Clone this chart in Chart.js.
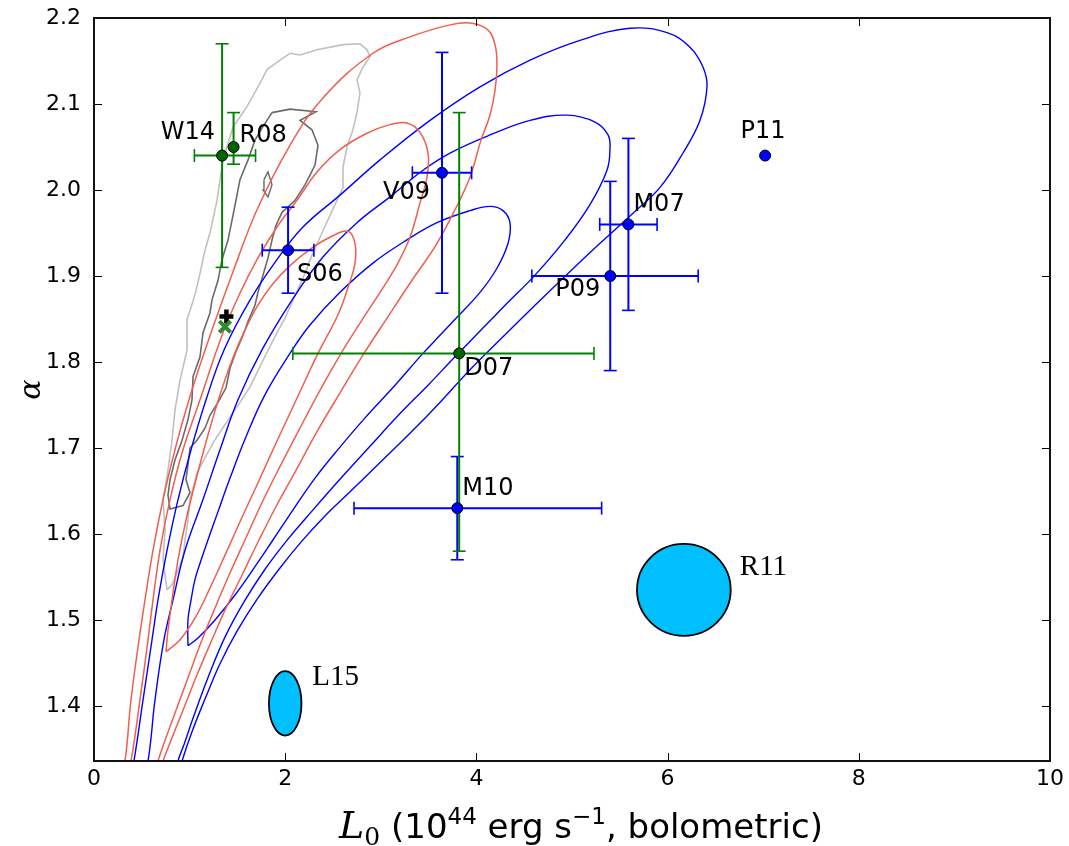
<!DOCTYPE html>
<html><head><meta charset="utf-8">
<script src="https://cdn.jsdelivr.net/npm/chart.js@4.4.1/dist/chart.umd.min.js"></script>
<style>html,body{margin:0;padding:0;background:#fff;}</style>
</head><body>
<canvas id="c" width="1069" height="846"></canvas>
<script>
// ---------- axes ----------
const xTicks = [0, 2, 4, 6, 8, 10];
const yTicks = [1.4, 1.5, 1.6, 1.7, 1.8, 1.9, 2.0, 2.1, 2.2];
const xRange = [0, 10];
const yRange = [1.336, 2.2];

// ---------- literature points ----------
const greenNames = ['W14', 'R08', 'D07'];
const greenL = [1.34, 1.46, 3.82];
const greenA = [2.04, 2.05, 1.81];
const greenLerrLo = [0.29, 0, 1.74];
const greenLerrHi = [0.35, 0, 1.41];
const greenAerrLo = [0.13, 0.02, 0.23];
const greenAerrHi = [0.13, 0.04, 0.28];

const blueNames = ['S06', 'V09', 'M07', 'P09', 'M10', 'P11'];
const blueL = [2.03, 3.64, 5.59, 5.40, 3.80, 7.02];
const blueA = [1.93, 2.02, 1.96, 1.90, 1.63, 2.04];
const blueLerrLo = [0.27, 0.31, 0.30, 0.82, 1.08, 0];
const blueLerrHi = [0.27, 0.31, 0.30, 0.92, 1.51, 0];
const blueAerrLo = [0.05, 0.14, 0.10, 0.11, 0.06, 0];
const blueAerrHi = [0.05, 0.14, 0.10, 0.11, 0.06, 0];

const bestPlus = [1.385, 1.853];
const bestCross = [1.37, 1.841];

// ellipses (center L, center alpha, half-width L, half-height alpha)
const ellNames = ['R11', 'L15'];
const ellL = [6.17, 2.00];
const ellA = [1.535, 1.403];
const ellRL = [0.49, 0.17];
const ellRA = [0.0535, 0.0374];

// ---------- contours [L, alpha] ----------
const redOuter = [[0.251,1.302],[0.324,1.336],[0.387,1.407],[0.471,1.477],[0.533,1.523],[0.617,1.581],[0.722,1.640],[0.847,1.698],[1.015,1.764],[1.224,1.834],[1.454,1.905],[1.705,1.977],[2.050,2.052],[2.395,2.107],[2.918,2.159],[3.305,2.178],[3.724,2.192],[3.954,2.194],[4.121,2.186],[4.195,2.169],[4.215,2.145],[4.195,2.116],[4.142,2.087],[4.048,2.058],[3.933,2.015],[3.776,1.977],[3.577,1.936],[3.326,1.895],[3.065,1.851],[2.824,1.810],[2.589,1.767],[2.343,1.721],[2.113,1.674],[1.914,1.634],[1.726,1.593],[1.548,1.552],[1.381,1.514],[1.234,1.477],[1.077,1.436],[0.931,1.395],[0.805,1.360],[0.722,1.336],[0.617,1.302]];
const redMiddle = [[0.314,1.302],[0.387,1.336],[0.481,1.407],[0.565,1.477],[0.617,1.523],[0.690,1.581],[0.795,1.640],[0.931,1.698],[1.109,1.756],[1.349,1.834],[1.527,1.880],[1.705,1.919],[1.914,1.957],[2.123,1.988],[2.333,2.021],[2.573,2.047],[2.856,2.066],[3.096,2.076],[3.274,2.078],[3.410,2.067],[3.494,2.043],[3.483,2.015],[3.410,1.985],[3.305,1.945],[3.169,1.913],[2.992,1.881],[2.793,1.847],[2.584,1.810],[2.364,1.767],[2.144,1.721],[1.925,1.674],[1.747,1.634],[1.579,1.593],[1.412,1.552],[1.266,1.514],[1.130,1.477],[0.994,1.436],[0.858,1.395],[0.743,1.360],[0.669,1.336],[0.575,1.302]];
const redInner = [[0.753,1.463],[0.774,1.488],[0.816,1.523],[0.879,1.570],[0.962,1.616],[1.067,1.663],[1.192,1.715],[1.318,1.762],[1.454,1.805],[1.579,1.837],[1.715,1.866],[1.872,1.891],[2.050,1.912],[2.259,1.931],[2.469,1.945],[2.657,1.952],[2.730,1.938],[2.730,1.915],[2.667,1.890],[2.552,1.855],[2.343,1.810],[2.186,1.773],[2.040,1.738],[1.872,1.698],[1.705,1.657],[1.559,1.622],[1.381,1.578],[1.213,1.537],[1.056,1.502],[0.900,1.477],[0.753,1.463]];
const blueOuter = [[0.356,1.302],[0.418,1.336],[0.513,1.407],[0.607,1.477],[0.669,1.523],[0.764,1.581],[0.879,1.640],[1.015,1.698],[1.172,1.756],[1.360,1.814],[1.632,1.872],[1.914,1.919],[2.186,1.957],[2.573,1.994],[2.992,2.035],[3.515,2.081],[4.038,2.120],[4.561,2.151],[5.084,2.174],[5.607,2.188],[5.994,2.183],[6.234,2.166],[6.370,2.143],[6.412,2.120],[6.339,2.081],[6.161,2.043],[5.921,2.003],[5.638,1.973],[5.293,1.938],[4.958,1.903],[4.613,1.866],[4.257,1.827],[3.933,1.791],[3.619,1.753],[3.305,1.717],[2.992,1.683],[2.678,1.649],[2.416,1.621],[2.176,1.592],[1.935,1.559],[1.705,1.524],[1.496,1.487],[1.318,1.449],[1.161,1.408],[1.025,1.370],[0.921,1.336],[0.837,1.302]];
const blueMiddle = [[0.481,1.302],[0.565,1.336],[0.638,1.407],[0.732,1.477],[0.826,1.523],[0.952,1.581],[1.140,1.640],[1.318,1.698],[1.506,1.756],[1.757,1.814],[2.071,1.872],[2.395,1.922],[2.751,1.962],[3.096,1.992],[3.441,2.023],[3.724,2.043],[4.142,2.064],[4.561,2.081],[4.948,2.087],[5.241,2.079],[5.377,2.064],[5.397,2.047],[5.366,2.023],[5.188,1.983],[4.927,1.942],[4.613,1.901],[4.310,1.867],[4.038,1.836],[3.776,1.806],[3.494,1.773],[3.201,1.740],[2.887,1.702],[2.584,1.665],[2.291,1.628],[2.029,1.594],[1.789,1.559],[1.569,1.521],[1.370,1.480],[1.203,1.436],[1.056,1.392],[0.941,1.355],[0.879,1.336],[0.816,1.302]];
const blueInner = [[0.983,1.470],[0.983,1.500],[1.015,1.523],[1.056,1.547],[1.109,1.566],[1.192,1.593],[1.297,1.626],[1.423,1.665],[1.590,1.713],[1.789,1.762],[2.050,1.810],[2.259,1.843],[2.573,1.881],[2.918,1.915],[3.274,1.942],[3.588,1.962],[3.933,1.976],[4.142,1.981],[4.278,1.976],[4.351,1.962],[4.331,1.938],[4.215,1.909],[4.038,1.881],[3.797,1.852],[3.619,1.831],[3.441,1.810],[3.149,1.773],[2.835,1.735],[2.573,1.701],[2.312,1.665],[2.082,1.628],[1.872,1.593],[1.684,1.562],[1.475,1.529],[1.266,1.500],[1.088,1.479],[0.983,1.470]];
const grayOuter = [[0.764,1.535],[0.722,1.570],[0.743,1.605],[0.722,1.640],[0.774,1.674],[0.816,1.709],[0.847,1.744],[0.900,1.779],[0.973,1.814],[0.973,1.849],[1.056,1.878],[1.109,1.903],[1.161,1.930],[1.213,1.950],[1.287,1.988],[1.349,2.035],[1.454,2.073],[1.600,2.097],[1.736,2.124],[1.810,2.140],[1.946,2.151],[2.050,2.159],[2.155,2.157],[2.333,2.163],[2.605,2.169],[2.782,2.170],[2.856,2.163],[2.887,2.155],[2.814,2.143],[2.751,2.128],[2.782,2.113],[2.751,2.090],[2.709,2.070],[2.646,2.050],[2.605,2.027],[2.605,2.003],[2.521,1.983],[2.364,1.945],[2.280,1.924],[2.207,1.903],[2.082,1.872],[1.998,1.851],[1.914,1.834],[1.768,1.802],[1.632,1.771],[1.527,1.753],[1.423,1.736],[1.245,1.706],[1.077,1.671],[1.004,1.640],[0.983,1.616],[0.952,1.593],[0.931,1.573],[0.879,1.558],[0.816,1.541],[0.764,1.535]];
const grayInner = [[1.862,2.090],[1.757,2.072],[1.684,2.058],[1.611,2.035],[1.527,2.012],[1.485,1.988],[1.444,1.965],[1.402,1.942],[1.339,1.919],[1.297,1.895],[1.234,1.872],[1.213,1.857],[1.140,1.834],[1.109,1.806],[1.036,1.783],[1.025,1.756],[0.983,1.733],[0.921,1.709],[0.847,1.686],[0.795,1.663],[0.774,1.645],[0.795,1.629],[0.931,1.633],[1.004,1.648],[0.962,1.663],[0.983,1.680],[1.004,1.700],[1.077,1.709],[1.161,1.723],[1.213,1.738],[1.297,1.753],[1.381,1.770],[1.423,1.793],[1.485,1.812],[1.559,1.831],[1.611,1.847],[1.684,1.866],[1.715,1.881],[1.768,1.901],[1.820,1.921],[1.862,1.942],[1.904,1.959],[1.967,1.974],[2.103,1.988],[2.207,2.006],[2.312,2.029],[2.343,2.052],[2.280,2.070],[2.155,2.081],[2.322,2.091],[2.050,2.094],[1.862,2.090]];
const grayIsland = [[1.778,2.012],[1.820,2.021],[1.862,2.006],[1.820,1.992],[1.768,2.000],[1.778,2.012]];

// ---------- styles ----------
const RED = '#ee5f4e', BLUE = '#0000ff', GREEN = '#008000', GREENDOT = '#006400';
const labelStyle = {
  W14: [-7, -23, 'right'], R08: [6, -11, 'left'], S06: [9, 25, 'left'], V09: [-12, 20, 'right'],
  M07: [5, -20, 'left'], P09: [-10, 14, 'right'], P11: [-2, -24, 'center'], D07: [5, 15, 'left'],
  M10: [5, -19, 'left'], R11: [56, -22, 'left'], L15: [27, -26, 'left']
};

const toXY = arr => arr.map(([x, y]) => ({x, y}));
const contourSet = (arr, color, w, tension) => ({
  data: toXY(arr), showLine: true, borderColor: color, borderWidth: w,
  pointRadius: 0, tension: tension, fill: false
});
function errSets(Ls, As, lLo, lHi, aLo, aHi, color) {
  const out = [];
  Ls.forEach((L, i) => {
    if (aLo[i] + aHi[i] > 0) out.push({
      data: [{x: L, y: As[i] - aLo[i]}, {x: L, y: As[i] + aHi[i]}], showLine: true,
      borderColor: color, borderWidth: 2, pointStyle: 'line', pointRadius: 6.5,
      pointBorderWidth: 1.6, pointBorderColor: color, pointRotation: 0
    });
    if (lLo[i] + lHi[i] > 0) out.push({
      data: [{x: L - lLo[i], y: As[i]}, {x: L + lHi[i], y: As[i]}], showLine: true,
      borderColor: color, borderWidth: 2, pointStyle: 'line', pointRadius: 6.5,
      pointBorderWidth: 1.6, pointBorderColor: color, pointRotation: 90
    });
  });
  return out;
}

const datasets = [
  {data: [{x: bestCross[0], y: bestCross[1]}], pointStyle: 'crossRot', pointRadius: 8, pointBorderWidth: 4, borderColor: '#2e8b2e', backgroundColor: '#2e8b2e'},
  {data: [{x: bestPlus[0], y: bestPlus[1]}], pointStyle: 'cross', pointRadius: 7, pointBorderWidth: 4.5, borderColor: '#000', backgroundColor: '#000'},
  {data: greenL.map((x, i) => ({x, y: greenA[i]})), pointRadius: 5.5, pointBorderWidth: 1, backgroundColor: GREENDOT, borderColor: '#000'},
  {data: blueL.map((x, i) => ({x, y: blueA[i]})), pointRadius: 5.5, pointBorderWidth: 1, backgroundColor: BLUE, borderColor: '#000'},
  ...errSets(greenL, greenA, greenLerrLo, greenLerrHi, greenAerrLo, greenAerrHi, GREEN),
  ...errSets(blueL, blueA, blueLerrLo, blueLerrHi, blueAerrLo, blueAerrHi, BLUE),
  contourSet(redOuter, RED, 1.5, 0.4),
  contourSet(redMiddle, RED, 1.5, 0.4),
  contourSet(redInner, RED, 1.5, 0.4),
  contourSet(blueOuter, BLUE, 1.4, 0.4),
  contourSet(blueMiddle, BLUE, 1.4, 0.4),
  contourSet(blueInner, BLUE, 1.4, 0.4),
  contourSet(grayInner, '#6a6a6a', 1.6, 0),
  contourSet(grayIsland, '#6a6a6a', 1.4, 0),
  contourSet(grayOuter, '#c0c0c0', 1.6, 0)
];

const overlay = {
  id: 'overlay',
  afterDatasetsDraw(chart) {
    const {ctx, chartArea: a, scales: {x, y}} = chart;
    ctx.save();
    ellL.forEach((L, i) => {
      const cx = x.getPixelForValue(L), cy = y.getPixelForValue(ellA[i]);
      const rx = Math.abs(x.getPixelForValue(L + ellRL[i]) - cx);
      const ry = Math.abs(y.getPixelForValue(ellA[i] + ellRA[i]) - cy);
      ctx.beginPath(); ctx.ellipse(cx, cy, rx, ry, 0, 0, Math.PI * 2);
      ctx.fillStyle = '#00bfff'; ctx.fill();
      ctx.lineWidth = 1.8; ctx.strokeStyle = '#000'; ctx.stroke();
      const s = labelStyle[ellNames[i]];
      ctx.font = '29px "Liberation Serif"'; ctx.fillStyle = '#000';
      ctx.textAlign = s[2]; ctx.textBaseline = 'middle';
      ctx.fillText(ellNames[i], cx + s[0], cy + s[1]);
    });
    ctx.font = '24px "DejaVu Sans"'; ctx.fillStyle = '#000'; ctx.textBaseline = 'middle';
    const lab = (names, Ls, As) => names.forEach((n, i) => {
      const s = labelStyle[n];
      ctx.textAlign = s[2];
      ctx.fillText(n, x.getPixelForValue(Ls[i]) + s[0], y.getPixelForValue(As[i]) + s[1]);
    });
    lab(greenNames, greenL, greenA);
    lab(blueNames, blueL, blueA);
    ctx.strokeStyle = '#000'; ctx.lineWidth = 1;
    ctx.beginPath();
    xTicks.forEach(v => { const p = Math.round(x.getPixelForValue(v)) + 0.5;
      ctx.moveTo(p, a.bottom); ctx.lineTo(p, a.bottom - 8); ctx.moveTo(p, a.top); ctx.lineTo(p, a.top + 8); });
    yTicks.forEach(v => { const p = Math.round(y.getPixelForValue(v)) + 0.5;
      ctx.moveTo(a.left, p); ctx.lineTo(a.left + 8, p); ctx.moveTo(a.right, p); ctx.lineTo(a.right - 8, p); });
    ctx.stroke();
    ctx.lineWidth = 2; ctx.strokeStyle = '#111';
    ctx.strokeRect(a.left, a.top, a.right - a.left, a.bottom - a.top);
    ctx.restore();
  },
  afterDraw(chart) {
    const {ctx} = chart;
    const parts = [
      ['L', 'italic 38px "DejaVu Serif"', 0],
      ['0', '25px "DejaVu Serif"', 7],
      [' (10', '34px "DejaVu Sans"', 0],
      ['44', '23px "DejaVu Sans"', -14],
      [' erg s', '34px "DejaVu Sans"', 0],
      ['\u22121', '23px "DejaVu Sans"', -14],
      [', bolometric)', '34px "DejaVu Sans"', 0]
    ];
    ctx.save();
    let total = 0;
    parts.forEach(p => { ctx.font = p[1]; total += ctx.measureText(p[0]).width; });
    let xp = 581 - total / 2;
    const base = 838;
    ctx.fillStyle = '#000'; ctx.textBaseline = 'alphabetic'; ctx.textAlign = 'left';
    parts.forEach(p => { ctx.font = p[1]; ctx.fillText(p[0], xp, base + p[2]); xp += ctx.measureText(p[0]).width; });
    ctx.restore();
  }
};

new Chart(document.getElementById('c'), {
  type: 'scatter',
  data: {datasets},
  options: {
    responsive: false, animation: false, devicePixelRatio: 1,
    layout: {padding: {top: 18, right: 19, left: 0, bottom: 0}},
    plugins: {legend: {display: false}, tooltip: {enabled: false}},
    elements: {point: {hoverRadius: 0}},
    scales: {
      x: {
        type: 'linear', min: xRange[0], max: xRange[1],
        afterBuildTicks: s => { s.ticks = xTicks.map(v => ({value: v})); },
        afterFit: s => { s.height = 85; s.paddingLeft = 0; s.paddingRight = 0; },
        grid: {display: false, drawTicks: false}, border: {display: false},
        ticks: {font: {family: 'DejaVu Sans', size: 22}, color: '#000', padding: 5, maxRotation: 0, autoSkip: false}
      },
      y: {
        type: 'linear', min: yRange[0], max: yRange[1],
        afterBuildTicks: s => { s.ticks = yTicks.map(v => ({value: v})); },
        afterFit: s => { s.width = 94; s.paddingTop = 0; s.paddingBottom = 0; },
        grid: {display: false, drawTicks: false}, border: {display: false},
        ticks: {font: {family: 'DejaVu Sans', size: 22}, color: '#000', padding: 13, autoSkip: false,
                callback: v => Number(v).toFixed(1)},
        title: {display: true, text: '\u03b1', color: '#000',
                font: {family: 'DejaVu Serif', style: 'italic', size: 30}, padding: {top: 14, bottom: 0}}
      }
    }
  },
  plugins: [overlay]
});
</script>
</body></html>
